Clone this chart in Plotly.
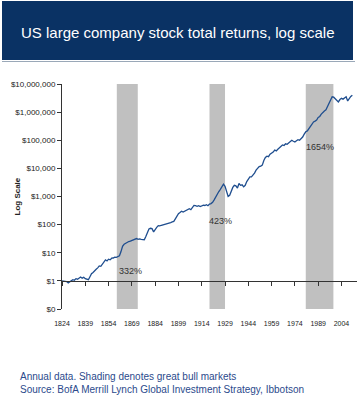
import math
import plotly.graph_objects as go

years = list(range(1824, 2012))
values = [
    1.00, 0.97, 0.92, 0.95, 0.85, 0.92, 1.05, 1.10, 1.05, 1.20,   # 1824-1833
    1.15, 1.30, 1.38, 1.25, 1.35, 1.20, 1.15, 1.10, 1.40, 1.80,   # 1834-1843
    2.00, 2.20, 2.60, 2.90, 3.40, 3.30, 3.90, 4.40, 5.60, 5.10,   # 1844-1853
    5.90, 5.60, 6.40, 6.50, 7.00, 6.90, 7.60, 7.80, 11.0, 17.0,   # 1854-1863
    20.0, 22.0, 24.0, 25.0, 26.0, 27.0, 29.0, 31.0, 32.0, 30.0,   # 1864-1873
    31.0, 30.0, 29.0, 29.0, 38.0, 55.0, 70.0, 74.0, 72.0, 55.0,   # 1874-1883
    68.0, 80.0, 92.0, 90.0, 95.0, 98.0, 100, 108, 105, 112,       # 1884-1893
    118, 125, 130, 160, 200, 245, 270, 300, 280, 300,             # 1894-1903
    325, 350, 370, 340, 400, 480, 470, 450, 470, 440,             # 1904-1913
    460, 490, 480, 510, 470, 540, 560, 620, 760, 980,             # 1914-1923
    1200, 1500, 1800, 2200, 2750, 2300, 1500, 1000, 1100, 1600,   # 1924-1933
    2100, 2500, 2400, 2000, 2900, 2500, 2600, 2200, 2500, 3400,   # 1934-1943
    4400, 5000, 5000, 5600, 6800, 8700, 10000, 11500, 12000, 13000,  # 1944-1953
    19000, 24500, 27000, 26000, 32000, 34000, 38000, 45000, 42000, 48000,  # 1954-1963
    55000, 60000, 68000, 65000, 75000, 72000, 81000, 85000, 100000, 92000,  # 1964-1973
    87000, 96000, 105000, 100000, 115000, 130000, 165000, 200000, 215000, 260000,  # 1974-1983
    300000, 360000, 450000, 480000, 520000, 650000, 700000, 850000, 1000000, 1100000,  # 1984-1993
    1200000, 1600000, 2100000, 2800000, 3500000, 3400000, 3000000, 2500000, 2300000, 2800000,  # 1994-2003
    3100000, 2900000, 3300000, 3500000, 2500000, 3200000, 3600000, 4000000,  # 2004-2011
]

bull_markets = [(1859.3, 1872.8), (1919, 1929), (1981, 1998.8)]
bull_labels = ["332%", "423%", "1654%"]
label_x = [1867.8, 1926.4, 1990.0]
label_y = [2.2, 130, 56000]

tick_years = list(range(1824, 2005, 15))
y_ticks = [0.1, 1, 10, 100, 1000, 10000, 100000, 1000000, 10000000]
y_tick_text = ["$0", "$1", "$10", "$100", "$1,000", "$10,000", "$100,000",
               "$1,000,000", "$10,000,000"]

FONT = "Arial, Liberation Sans, sans-serif"
W, H = 358, 400
L, R, T, B = 62, 1, 84, 91
PW, PH = W - L - R, H - T - B


def px(xp):
    return (xp - L) / PW


def py(yp):
    return (H - B - yp) / PH


fig = go.Figure()
fig.add_trace(go.Scatter(x=years, y=values, mode="lines",
                         line=dict(color="#1f4e8f", width=1.3),
                         hoverinfo="skip", showlegend=False))
fig.add_trace(go.Scatter(x=[years[0]], y=[values[0]], xaxis="x2", mode="markers",
                         marker=dict(opacity=0), hoverinfo="skip", showlegend=False))

shapes = []
for x0, x1 in bull_markets:
    shapes.append(dict(type="rect", xref="x", yref="paper", x0=x0, x1=x1, y0=0, y1=1,
                       fillcolor="#c0c0c0", line=dict(width=0), layer="below"))
# title box
shapes.append(dict(type="rect", xref="paper", yref="paper", x0=px(2), x1=px(353),
                   y0=py(60), y1=py(1), fillcolor="#0a3264", line=dict(width=0),
                   layer="above"))
shapes.append(dict(type="line", xref="paper", yref="paper", x0=px(2), x1=px(355),
                   y0=py(61.5), y1=py(61.5), line=dict(color="#9aa8b8", width=1)))

annotations = []
for t, lx, ly in zip(bull_labels, label_x, label_y):
    annotations.append(dict(x=lx, y=math.log10(ly), xref="x", yref="y", text=t,
                            showarrow=False, font=dict(family=FONT, size=9, color="#333333")))
annotations.append(dict(x=px(19), y=py(32), xref="paper", yref="paper", xanchor="left",
                        yanchor="middle", showarrow=False,
                        text="US large company stock total returns, log scale",
                        font=dict(family=FONT, size=15, color="white")))
annotations.append(dict(x=px(10), y=py(197), xref="paper", yref="paper", textangle=-90,
                        showarrow=False, text="<b>Log Scale</b>",
                        font=dict(family=FONT, size=8, color="#222222")))
annotations.append(dict(x=px(18), y=py(376), xref="paper", yref="paper", xanchor="left",
                        yanchor="middle", showarrow=False,
                        text="Annual data. Shading denotes great bull markets",
                        font=dict(family=FONT, size=10, color="#2b4a8c")))
annotations.append(dict(x=px(18), y=py(389), xref="paper", yref="paper", xanchor="left",
                        yanchor="middle", showarrow=False,
                        text="Source: BofA Merrill Lynch Global Investment Strategy, Ibbotson",
                        font=dict(family=FONT, size=10, color="#2b4a8c")))

fig.update_layout(
    width=W, height=H,
    margin=dict(l=L, r=R, t=T, b=B, pad=0),
    paper_bgcolor="white", plot_bgcolor="white",
    showlegend=False,
    xaxis=dict(range=[1824, 2014], tickvals=tick_years, ticktext=[str(y) for y in tick_years],
               showline=False, showgrid=False, zeroline=False,
               ticks="outside", ticklen=8, tickcolor="rgba(0,0,0,0)",
               tickfont=dict(family=FONT, size=7, color="#222222")),
    xaxis2=dict(range=[1824, 2014], overlaying="x", anchor="free", position=0.125,
                tickvals=tick_years, showticklabels=False, showline=True,
                linecolor="#333333", linewidth=1, ticks="outside", ticklen=4,
                tickcolor="#333333", showgrid=False, zeroline=False),
    yaxis=dict(type="log", range=[-1, 7], tickvals=y_ticks, ticktext=y_tick_text,
               showline=True, linecolor="#333333", linewidth=1, ticks="outside",
               ticklen=4, tickcolor="#333333", showgrid=False, zeroline=False,
               tickfont=dict(family=FONT, size=8, color="#222222")),
    shapes=shapes,
    annotations=annotations,
)

fig.write_html("out.html", config={"displayModeBar": False, "staticPlot": True},
               post_script="document.body.style.margin='0';document.body.style.padding='0';"
                           "document.body.style.overflow='hidden';")
